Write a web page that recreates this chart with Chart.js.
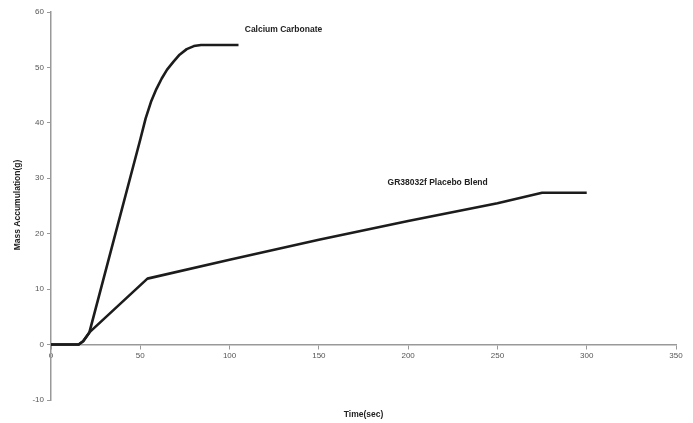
<!DOCTYPE html>
<html>
<head>
<meta charset="utf-8">
<script src="https://cdn.jsdelivr.net/npm/chart.js@4/dist/chart.umd.min.js"></script>
<style>
  body { margin: 0; background: #fff; }
  #wrap { width: 693px; height: 423px; }
</style>
</head>
<body>
<div id="wrap"><canvas id="chart"></canvas></div>
<script>
// time in seconds, mass in g
const calciumTime = [0, 15.5, 18, 21.5, 50, 53, 56, 59, 62, 65, 68.5, 72, 76, 80, 84, 105];
const calciumMass = [0, 0, 0.6, 2.2, 37, 40.8, 43.8, 46.1, 48, 49.6, 51, 52.3, 53.3, 53.85, 54.05, 54.05];
const placeboTime = [0, 15.5, 18, 21.5, 54, 100, 150, 200, 250, 275, 300];
const placeboMass = [0, 0, 0.6, 2.2, 11.9, 15.3, 18.9, 22.3, 25.5, 27.4, 27.4];

const seriesNames = ["Calcium Carbonate", "GR38032f Placebo Blend"];
// where each series name sits, in data units (time, mass)
const labelAt = [[108.5, 56.8], [188.5, 29.2]];

function toPoints(xs, ys) {
  return xs.map((x, i) => ({ x: x, y: ys[i] }));
}

const textPlugin = {
  id: "textPlugin",
  afterDraw(chart) {
    const ctx = chart.ctx;
    const xs = chart.scales.x;
    const ys = chart.scales.y;
    ctx.save();
    ctx.fillStyle = "#222";
    ctx.font = "bold 8.5px 'Liberation Sans', Arial, sans-serif";
    ctx.textBaseline = "middle";
    ctx.textAlign = "left";
    seriesNames.forEach((name, i) => {
      ctx.fillText(name, xs.getPixelForValue(labelAt[i][0]), ys.getPixelForValue(labelAt[i][1]));
    });
    // axis titles
    ctx.textAlign = "center";
    ctx.fillText("Time(sec)", (xs.left + xs.right) / 2, 415);
    ctx.translate(18, 205);
    ctx.rotate(-Math.PI / 2);
    ctx.fillText("Mass Accumulation(g)", 0, 0);
    ctx.restore();
  }
};

const lineStyle = {
  borderColor: "#1c1c1c",
  borderWidth: 2.6,
  pointRadius: 0,
  fill: false,
  tension: 0,
  borderJoinStyle: "round"
};

const tickFont = { size: 8, family: "'Liberation Sans', Arial" };

new Chart("chart", {
  type: "line",
  data: {
    datasets: [
      Object.assign({ label: seriesNames[0], data: toPoints(calciumTime, calciumMass) }, lineStyle),
      Object.assign({ label: seriesNames[1], data: toPoints(placeboTime, placeboMass) }, lineStyle)
    ]
  },
  options: {
    responsive: true,
    maintainAspectRatio: false,
    animation: false,
    layout: { padding: { left: 0, right: 17, top: 12, bottom: 23 } },
    plugins: { legend: { display: false }, tooltip: { enabled: false } },
    scales: {
      x: {
        type: "linear",
        position: { y: 0 },
        min: 0,
        max: 350,
        ticks: { stepSize: 50, color: "#555", font: tickFont, padding: 2 },
        grid: { drawOnChartArea: false, drawTicks: true, tickLength: 4, color: "#999" },
        border: { display: true, color: "#999", width: 1.5 }
      },
      y: {
        type: "linear",
        position: "left",
        min: -10,
        max: 60,
        afterFit(scale) { scale.width = 51; },
        ticks: { stepSize: 10, color: "#555", font: tickFont, padding: 3 },
        grid: { drawOnChartArea: false, drawTicks: true, tickLength: 4, color: "#999" },
        border: { display: true, color: "#999", width: 1.5 }
      }
    }
  },
  plugins: [textPlugin]
});
</script>
</body>
</html>
